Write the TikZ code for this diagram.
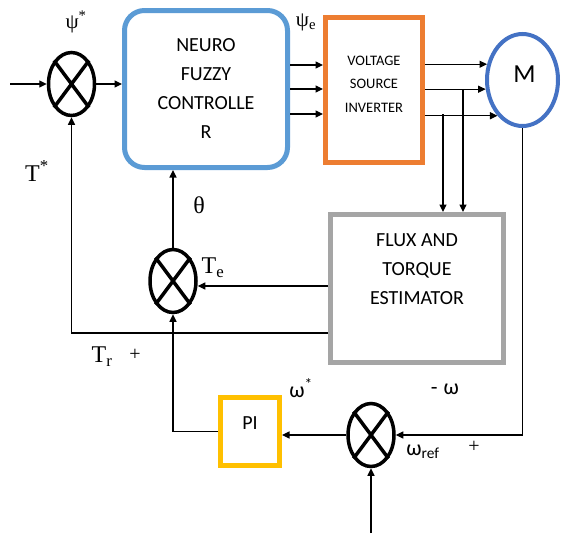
\documentclass[tikz,border=0pt]{standalone}
\usepackage{fontspec}
\setmainfont{Liberation Serif}
\newfontfamily\boxfont{Carlito}
\usepackage{xcolor}
\usepackage{tikz}
\usetikzlibrary{arrows.meta,calc,shapes.geometric}
\definecolor{nfcBlue}{HTML}{5B9BD5}
\definecolor{vsiOrange}{HTML}{ED7D31}
\definecolor{motorBlue}{HTML}{4472C4}
\definecolor{estGray}{HTML}{A5A5A5}
\definecolor{piYellow}{HTML}{FFC000}
\newcommand{\sumnode}[3]{%
 \node[draw, ellipse, line width=3.5pt, inner sep=0pt, minimum width=46pt, minimum height=63pt] (#1) at (#2,#3) {};%
 \draw[line width=3.5pt] (#1.north east) -- (#1.south west) (#1.north west) -- (#1.south east);}

\begin{document}
\begin{tikzpicture}[x=1pt,y=-1pt,
 sig/.style={-{Triangle[length=7.5pt,width=7pt]}, line width=1.1pt},
 blockbox/.style={draw, line width=5pt, inner sep=0pt},
 boxtxt/.style={font=\boxfont\fontsize{20}{29}\selectfont, align=center},
 lbl/.style={font=\fontsize{24}{24}\selectfont, inner sep=0pt},
 wlbl/.style={font=\boxfont\fontsize{22}{22}\selectfont, inner sep=0pt}]
\useasboundingbox (0,0) rectangle (562,533);
% blocks
\node[blockbox, draw=nfcBlue, rounded corners=20pt, minimum width=163pt, minimum height=157pt, boxtxt] (nfc) at (206,89) {NEURO\\FUZZY\\CONTROLLE\\R};
\node[blockbox, draw=vsiOrange, minimum width=97pt, minimum height=145pt,
 label={[boxtxt, font=\boxfont\fontsize{14.5}{23.5}\selectfont, yshift=6pt]center:{VOLTAGE\\SOURCE\\INVERTER}}] (vsi) at (374,90) {};
\node[draw=motorBlue, ellipse, line width=4pt, inner sep=0pt, minimum width=71pt, minimum height=92pt,
 label={[boxtxt, font=\boxfont\fontsize{26}{26}\selectfont, xshift=2pt, yshift=6pt]center:M}] (motor) at (522.5,80) {};
\node[blockbox, draw=estGray, minimum width=173pt, minimum height=148pt,
 label={[boxtxt, yshift=19.5pt]center:{FLUX AND\\TORQUE\\ESTIMATOR}}] (est) at (417,288.5) {};
\node[blockbox, draw=piYellow, minimum width=59pt, minimum height=68pt,
 label={[boxtxt, yshift=8pt]center:PI}] (pi) at (250,431.5) {};
% summing junctions
\sumnode{j1}{71.5}{84}
\sumnode{j2}{173}{281}
\sumnode{j3}{371}{435}
\coordinate (in1) at (10,84);
\coordinate (in3) at (371,533);
\coordinate (tapA) at (443,114);
\coordinate (tapB) at (463,89);
% connectors
\draw[sig] (in1) -- (j1.west);
\draw[sig] (j1.east) -- (j1.east-|nfc.west);
\foreach \yy in {65,89,114}
 \draw[sig] (nfc.east|-0,\yy) -- (vsi.west|-0,\yy);
\draw[sig] (vsi.east|-motor.156) -- (motor.156);
\draw[sig] (vsi.east|-motor.194.5) -- (motor.194.5);
\draw[sig] (vsi.east|-motor.235) -- (motor.235);
\draw[sig] (tapA) -- (tapA|-est.north);
\draw[sig] (tapB) -- (tapB|-est.north);
\draw[sig] (motor.south) |- (j3.east);
\draw[sig] (j3.west) -- (j3.west-|pi.east);
\draw[sig] (in3) -- (j3.south);
\draw[sig] (pi.west) -| (j2.south);
\draw[sig] (j2.north) -- (j2.north|-nfc.south);
\draw[sig] (est.west|-0,286) -- (j2.east|-0,286);
\draw[sig] (est.west|-0,333) -| (j1.south);
% labels
\node[lbl, font=\fontsize{21}{21}\selectfont] (psiref) at (76,22) {ψ\textsuperscript{*}};
\node[lbl, font=\fontsize{21}{21}\selectfont] (psie) at (306,22) {ψ\textsubscript{e}};
\node[lbl] (tref) at (37,171) {T\textsuperscript{*}};
\node[lbl] (theta) at (199,205) {θ};
\node[lbl] (te) at (213,268) {T\textsubscript{e}};
\node[lbl] (tr) at (102,357) {T\textsubscript{r}};
\node[lbl, font=\fontsize{20}{20}\selectfont] (plusA) at (135,355) {+};
\node[wlbl] (wref) at (301,388) {ω\textsuperscript{*}};
\node[wlbl] (wfb) at (445,389) {-\hspace{6pt}ω};
\node[wlbl] (wrefb) at (423,452) {ω\textsubscript{ref}};
\node[lbl, font=\fontsize{20}{20}\selectfont] (plusB) at (474,447) {+};
\end{tikzpicture}
\end{document}
